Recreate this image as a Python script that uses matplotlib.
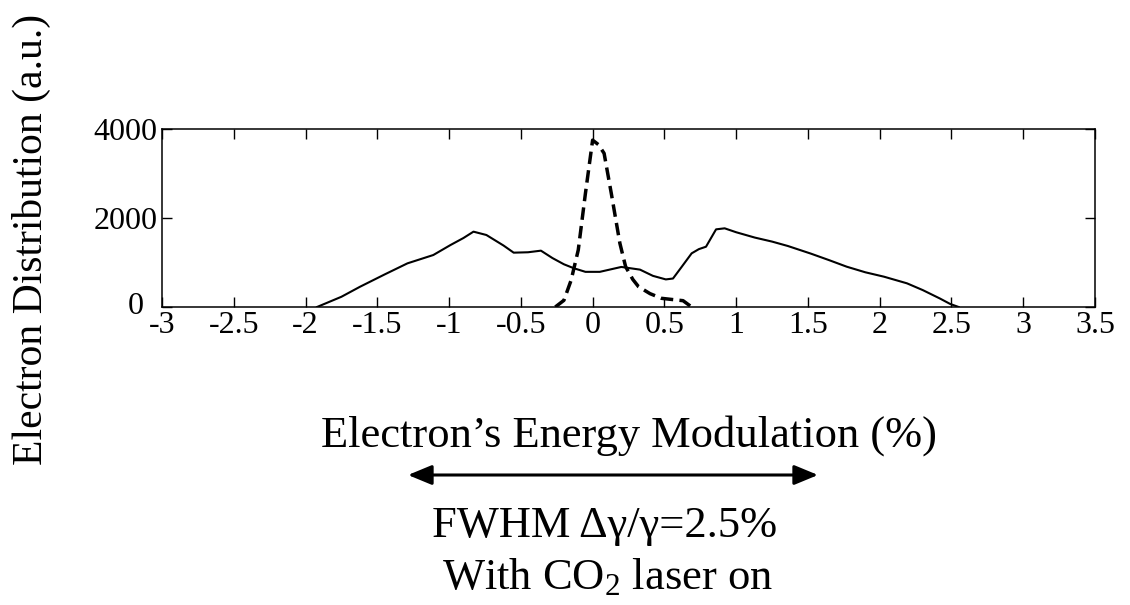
import matplotlib
matplotlib.use("Agg")
import matplotlib.pyplot as plt
from matplotlib.patches import FancyArrowPatch
from matplotlib.transforms import ScaledTranslation

plt.rcParams['font.family'] = ['Liberation Serif', 'DejaVu Serif']
plt.rcParams['mathtext.fontset'] = 'custom'
plt.rcParams['mathtext.rm'] = 'Liberation Serif'
plt.rcParams['mathtext.it'] = 'Liberation Serif:italic'

# Laser-on distribution (solid)
on_x = [-1.92, -1.75, -1.62, -1.45, -1.29, -1.11, -0.99, -0.90, -0.83, -0.74,
        -0.62, -0.55, -0.45, -0.36, -0.28, -0.20, -0.13, -0.05, 0.05, 0.20,
        0.33, 0.42, 0.51, 0.56, 0.62, 0.69, 0.74, 0.79, 0.86, 0.92,
        1.00, 1.13, 1.25, 1.36, 1.52, 1.65, 1.77, 1.90, 2.03, 2.19,
        2.30, 2.42, 2.49, 2.55]
on_y = [0, 230, 456, 730, 981, 1168, 1393, 1550, 1693, 1618,
        1380, 1221, 1230, 1266, 1100, 960, 870, 790, 790, 900,
        840, 700, 620, 640, 900, 1206, 1300, 1355, 1745, 1768,
        1680, 1560, 1470, 1371, 1200, 1050, 906, 780, 681, 532,
        380, 190, 70, 0]

# Laser-off distribution (dashed)
off_x = [-0.26, -0.20, -0.15, -0.10, -0.05, 0.00, 0.04, 0.08, 0.13, 0.19,
         0.23, 0.28, 0.32, 0.40, 0.48, 0.55, 0.63, 0.69]
off_y = [0, 150, 600, 1281, 2555, 3750, 3650, 3453, 2555, 1431,
         906, 620, 456, 300, 195, 170, 142, 0]

xticks = [-3, -2.5, -2, -1.5, -1, -0.5, 0, 0.5, 1, 1.5, 2, 2.5, 3, 3.5]
xticklabels = ["-3", "-2.5", "-2", "-1.5", "-1", "-0.5", "0", "0.5", "1",
               "1.5", "2", "2.5", "3", "3.5"]
yticks = [0, 2000, 4000]
yticklabels = ["0", "2000", "4000"]

W, H = 1130, 605
fig = plt.figure(figsize=(W / 100, H / 100), dpi=100)
ax = fig.add_axes([162 / W, 1 - 307 / H, (1095 - 162) / W, 178 / H])

ax.plot(on_x, on_y, color='black', lw=1.5)
ax.plot(off_x, off_y, color='black', lw=2.5, dashes=(3.6, 1.8))

ax.set_xlim(-3, 3.5)
ax.set_ylim(0, 4000)
ax.set_xticks(xticks)
ax.set_xticklabels(xticklabels)
ax.set_yticks(yticks)
ax.set_yticklabels(yticklabels)
ax.tick_params(direction='in', top=True, right=True, length=7, width=1,
               labelsize=23, pad=3)
for s in ax.spines.values():
    s.set_linewidth(1.1)

# the "0" label sits a little left of and above its tick, as in the original
zero_lbl = ax.get_yticklabels()[0]
zero_lbl.set_transform(zero_lbl.get_transform() +
                       ScaledTranslation(-0.14, 0.04, fig.dpi_scale_trans))

fig.text(31 / W, 1 - 239 / H, "Electron Distribution (a.u.)", rotation=90,
         ha='center', va='center', fontsize=30)
fig.text(629 / W, 1 - 447 / H, "Electron\u2019s Energy Modulation (%)",
         ha='center', va='baseline', fontsize=32)
fig.text(605 / W, 1 - 537 / H, "FWHM \u0394\u03b3/\u03b3=2.5%",
         ha='center', va='baseline', fontsize=32)
fig.text(607 / W, 1 - 589 / H, "With CO$_2$ laser on",
         ha='center', va='baseline', fontsize=32)
fig.add_artist(FancyArrowPatch(
    (408 / W, 1 - 475 / H), (818 / W, 1 - 475 / H),
    transform=fig.transFigure,
    arrowstyle='<|-|>,head_length=1.45,head_width=0.6',
    mutation_scale=10, color='black', lw=2.2, shrinkA=0, shrinkB=0))

fig.savefig("out.png", dpi=100)
